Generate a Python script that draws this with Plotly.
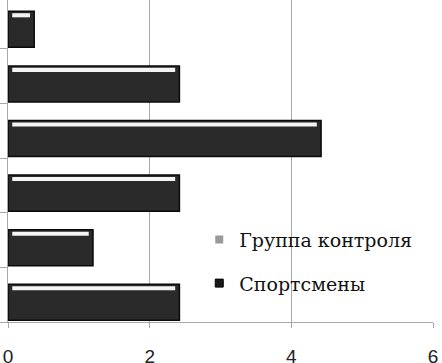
import plotly.graph_objects as go

# Data (top-to-bottom order as shown in the chart)
categories = ["1", "2", "3", "4", "5", "6"]
sportsmen = [0.37, 2.42, 4.42, 2.42, 1.2, 2.42]
control = [0, 0, 0, 0, 0, 0]
series_names = ["Группа контроля", "Спортсмены"]
x_ticks = [0, 2, 4, 6]

# plotly categorical y axis draws first category at bottom -> reverse
cats_b = categories[::-1]
sp_b = sportsmen[::-1]
ct_b = control[::-1]

fig = go.Figure()

# main dark bars
fig.add_trace(go.Bar(
    y=cats_b, x=sp_b, orientation="h",
    width=0.66, offset=-0.47,
    marker=dict(color="#2a2a2a", line=dict(color="#0a0a0a", width=1.5)),
    showlegend=False, hoverinfo="skip",
))
# bevel highlight stripe
fig.add_trace(go.Bar(
    y=cats_b, x=[v - 0.12 for v in sp_b], base=[0.06] * len(sp_b), orientation="h",
    width=0.075, offset=0.08,
    marker=dict(color="#f4f4f4", line=dict(width=0)),
    showlegend=False, hoverinfo="skip",
))
# control group (zero values)
fig.add_trace(go.Bar(
    y=cats_b, x=ct_b, orientation="h",
    width=0.3, offset=0.2,
    marker=dict(color="#9a9a9a", line=dict(width=0)),
    showlegend=False, hoverinfo="skip",
))

# legend entries
fig.add_trace(go.Scatter(
    x=[None], y=[None], mode="markers", name=series_names[0], legendgroup="a",
    marker=dict(symbol="square", size=8, color="#9a9a9a"),
))
fig.add_trace(go.Scatter(
    x=[None], y=[None], mode="markers", name=series_names[1], legendgroup="b",
    marker=dict(symbol="square", size=8, color="#1a1a1a", line=dict(color="#000", width=1)),
))

fig.update_layout(
    width=442, height=363,
    margin=dict(l=8, r=9, t=0, b=41, autoexpand=False),
    plot_bgcolor="white", paper_bgcolor="white",
    barmode="overlay",
    legend=dict(
        x=0.45, y=0.315, xanchor="left", yanchor="top",
        bgcolor="rgba(0,0,0,0)",
        font=dict(family="DejaVu Serif", size=19, color="#111"),
        tracegroupgap=16,
    ),
)
fig.update_xaxes(
    range=[0, 6], tickvals=x_ticks,
    showgrid=True, gridcolor="#a8a8a8", gridwidth=1,
    showline=True, linecolor="#a8a8a8", linewidth=1,
    ticks="outside", ticklen=5, tickcolor="#a8a8a8",
    zeroline=False, automargin=False,
    tickfont=dict(family="Liberation Sans", size=19, color="#222"),
    ticklabelstandoff=12,
)
fig.update_yaxes(
    type="category", categoryorder="array", categoryarray=cats_b,
    range=[-0.5, 5.397], automargin=False,
    showgrid=False, showline=True, linecolor="#a8a8a8", linewidth=1,
    ticks="outside", ticklen=8, tickcolor="#a8a8a8", tickson="boundaries",
    showticklabels=False, zeroline=False,
)

fig.write_html(
    "out.html",
    config={"displayModeBar": False},
    post_script="document.body.style.margin='0';document.body.style.overflow='hidden';",
)
